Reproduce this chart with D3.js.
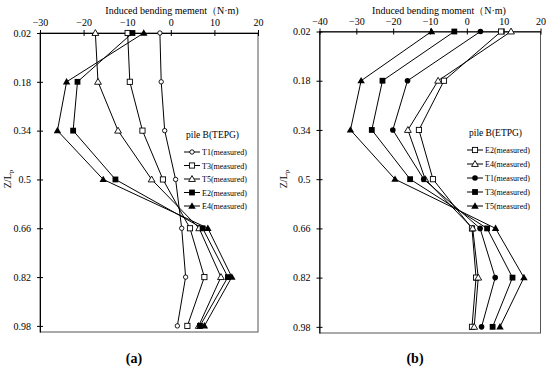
<!DOCTYPE html>
<html><head><meta charset="utf-8">
<script src="https://cdn.jsdelivr.net/npm/d3@7"></script>
<style>body{margin:0;background:#fff}svg{display:block}text{font-family:"Liberation Serif","Times New Roman",serif}</style>
</head><body>
<svg id="c" width="550" height="368"></svg>
<script>
const depths = [0.02, 0.18, 0.34, 0.5, 0.66, 0.82, 0.98];
const yTicks = [0.02, 0.18, 0.34, 0.5, 0.66, 0.82, 0.98];
// Panel (a) pile B(TEPG)
const aSeries = ["T1(measured)", "T3(measured)", "T5(measured)", "E2(measured)", "E4(measured)"];
const aT1 = [-2.5, -2.2, -1.4, 1.1, 2.5, 3.4, 1.5];
const aT3 = [-9.9, -9.4, -6.5, -1.8, 4.4, 7.7, 3.8];
const aT5 = [-17.3, -16.7, -12.1, -4.4, 6.5, 11.5, 6.4];
const aE2 = [-8.8, -21.4, -22.4, -12.7, 7.3, 13.1, 6.7];
const aE4 = [-6.2, -23.9, -26.0, -15.5, 8.5, 14.0, 7.7];
const aTicks = [-30, -20, -10, 0, 10, 20];
// Panel (b) pile B(ETPG)
const bSeries = ["E2(measured)", "E4(measured)", "T1(measured)", "T3(measured)", "T5(measured)"];
const bE2 = [9.3, -6.2, -13.0, -9.2, 1.4, 2.5, 1.4];
const bE4 = [12.0, -7.8, -16.0, -11.3, 1.6, 3.1, 2.0];
const bT1 = [3.7, -16.1, -20.1, -11.7, 3.6, 7.7, 4.0];
const bT3 = [-3.4, -22.9, -25.8, -15.4, 5.5, 12.4, 7.0];
const bT5 = [-9.6, -28.7, -31.6, -19.5, 7.8, 15.5, 9.0];
const bTicks = [-40, -30, -20, -10, 0, 10, 20];

const svg = d3.select("#c");

function marker(g, type, x, y) {
  if (type === "circ") g.append("circle").attr("cx", x).attr("cy", y).attr("r", 2.2).attr("fill", "#fff").attr("stroke", "#000").attr("stroke-width", 0.9);
  else if (type === "circF") g.append("circle").attr("cx", x).attr("cy", y).attr("r", 2.8).attr("fill", "#000");
  else if (type === "sq") g.append("rect").attr("x", x - 2.6).attr("y", y - 2.6).attr("width", 5.2).attr("height", 5.2).attr("fill", "#fff").attr("stroke", "#000").attr("stroke-width", 0.9);
  else if (type === "sqF") g.append("rect").attr("x", x - 2.9).attr("y", y - 2.9).attr("width", 5.8).attr("height", 5.8).attr("fill", "#000");
  else if (type === "tri") g.append("path").attr("d", d3.symbol(d3.symbolTriangle, 20)()).attr("transform", `translate(${x},${y + 0.5})`).attr("fill", "#fff").attr("stroke", "#000").attr("stroke-width", 0.9);
  else if (type === "triF") g.append("path").attr("d", d3.symbol(d3.symbolTriangle, 24)()).attr("transform", `translate(${x},${y + 0.5})`).attr("fill", "#000");
}

function panel(cfg) {
  const x = d3.scaleLinear().domain(cfg.xdom).range([cfg.left, cfg.right]);
  const y = d3.scaleLinear().domain([0.02, 1.0]).range([cfg.top, cfg.bottom]);
  const g = svg.append("g");
  g.append("rect").attr("x", cfg.left).attr("y", cfg.top).attr("width", cfg.right - cfg.left).attr("height", cfg.bottom - cfg.top)
    .attr("fill", "none").attr("stroke", "#555").attr("stroke-width", 1);
  const xa = g.append("g").attr("transform", `translate(0,${cfg.top})`)
    .call(d3.axisTop(x).tickValues(cfg.xticks).tickSizeInner(3).tickSizeOuter(0).tickPadding(4).tickFormat(d3.format("d")));
  xa.select(".domain").attr("stroke", "#000");
  xa.selectAll(".tick line").attr("y2", 3).attr("y1", -3);
  xa.selectAll("text").attr("font-size", 10).attr("font-family", "Liberation Serif").attr("fill", "#000");
  const ya = g.append("g").attr("transform", `translate(${cfg.left},0)`)
    .call(d3.axisLeft(y).tickValues(yTicks).tickSizeInner(3).tickSizeOuter(0).tickPadding(6).tickFormat(d => String(d)));
  ya.select(".domain").attr("stroke", "#000");
  ya.selectAll(".tick line").attr("x1", 3).attr("x2", -3);
  ya.selectAll("text").attr("font-size", 10).attr("font-family", "Liberation Serif").attr("fill", "#000");
  g.append("text").attr("x", cfg.titleX).attr("y", 14).attr("text-anchor", "middle").attr("font-size", 10).text(cfg.title);
  const yl = g.append("text").attr("transform", `translate(${cfg.ylabX},179) rotate(-90)`).attr("text-anchor", "middle").attr("font-size", 10);
  yl.append("tspan").text("Z/L");
  yl.append("tspan").attr("font-size", 7).attr("dy", 2).text("p");
  const line = d3.line().x(d => x(d[0])).y(d => y(d[1]));
  cfg.series.forEach((s, i) => {
    const pts = cfg.values[i].map((v, j) => [v, depths[j]]);
    g.append("path").attr("d", line(pts)).attr("fill", "none").attr("stroke", "#000").attr("stroke-width", 1);
  });
  cfg.series.forEach((s, i) => {
    cfg.values[i].forEach((v, j) => marker(g, cfg.markers[i], x(v), y(depths[j])));
  });
  g.append("text").attr("x", cfg.legX).attr("y", cfg.legY).attr("font-size", 9.5).text(cfg.legTitle);
  cfg.series.forEach((s, i) => {
    const ly = cfg.legY + 14 + i * cfg.legStep;
    g.append("line").attr("x1", cfg.legX - 2).attr("x2", cfg.legX + 14).attr("y1", ly).attr("y2", ly).attr("stroke", "#000");
    marker(g, cfg.markers[i], cfg.legX + 6, ly);
    g.append("text").attr("x", cfg.legX + 16).attr("y", ly + 3).attr("font-size", 8).text(s);
  });
  g.append("text").attr("x", cfg.capX).attr("y", 363).attr("text-anchor", "middle").attr("font-size", 14).attr("font-weight", "bold").text(cfg.cap);
}

panel({
  left: 40, right: 258, top: 33, bottom: 332, xdom: [-30, 20], xticks: aTicks,
  title: "Induced bending mement（N·m)", titleX: 172, ylabX: 11,
  series: aSeries, values: [aT1, aT3, aT5, aE2, aE4],
  markers: ["circ", "sq", "tri", "sqF", "triF"],
  legTitle: "pile B(TEPG)", legX: 186, legY: 138, legStep: 13.5, cap: "(a)", capX: 134
});
panel({
  left: 319.5, right: 540.5, top: 31.5, bottom: 333, xdom: [-40, 20], xticks: bTicks,
  title: "Induced bending moment（N·m)", titleX: 439, ylabX: 287,
  series: bSeries, values: [bE2, bE4, bT1, bT3, bT5],
  markers: ["sq", "tri", "circF", "sqF", "triF"],
  legTitle: "pile B(ETPG)", legX: 469, legY: 136, legStep: 14, cap: "(b)", capX: 415
});
</script>
</body></html>
